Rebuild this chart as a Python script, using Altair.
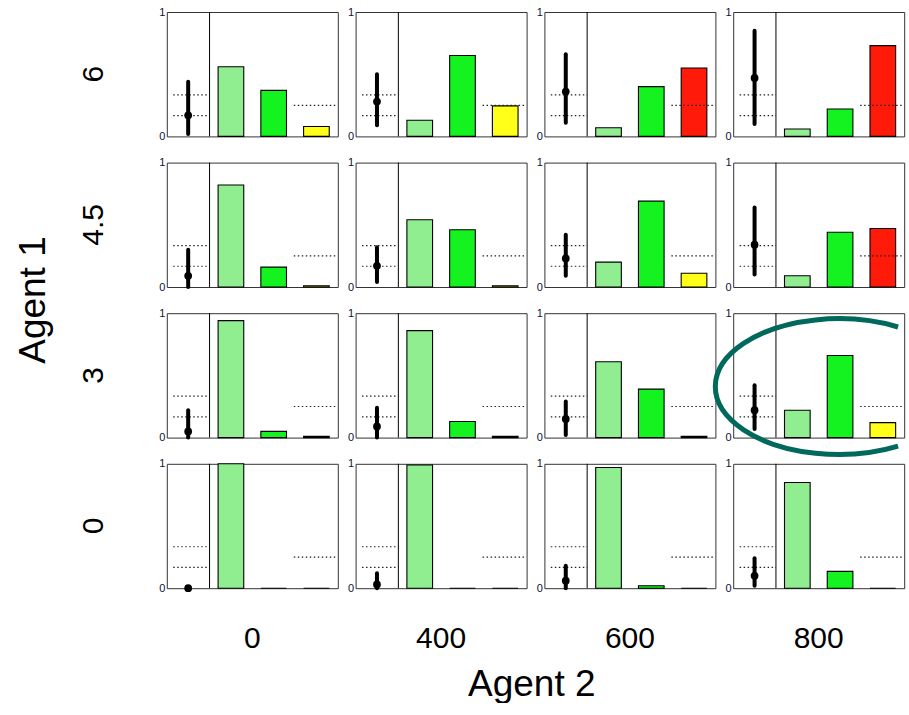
import altair as alt
import pandas as pd

# ---- values ----
agent1_levels = ["6", "4.5", "3", "0"]          # rows, top to bottom
agent2_levels = ["0", "400", "600", "800"]      # columns, left to right

light_share = [
    [0.56, 0.13, 0.07, 0.06],
    [0.82, 0.54, 0.20, 0.09],
    [0.94, 0.86, 0.61, 0.22],
    [1.00, 0.99, 0.97, 0.85],
]
green_share = [
    [0.37, 0.65, 0.40, 0.22],
    [0.16, 0.46, 0.69, 0.44],
    [0.05, 0.13, 0.39, 0.66],
    [0.00, 0.00, 0.02, 0.135],
]
third_share = [
    [0.08, 0.245, 0.55, 0.73],
    [0.01, 0.01, 0.11, 0.47],
    [0.01, 0.01, 0.01, 0.12],
    [0.00, 0.00, 0.00, 0.00],
]
third_kind = [
    ["yellow", "yellow", "red", "red"],
    ["yellow", "yellow", "yellow", "red"],
    ["yellow", "yellow", "yellow", "yellow"],
    ["yellow", "yellow", "yellow", "yellow"],
]
point_est = [
    [0.17, 0.28, 0.36, 0.47],
    [0.09, 0.17, 0.23, 0.34],
    [0.05, 0.09, 0.15, 0.22],
    [0.00, 0.03, 0.06, 0.10],
]
ci_low = [
    [0.02, 0.09, 0.11, 0.10],
    [0.00, 0.04, 0.09, 0.10],
    [0.00, 0.00, 0.02, 0.07],
    [0.00, 0.00, 0.00, 0.02],
]
ci_high = [
    [0.44, 0.50, 0.66, 0.85],
    [0.30, 0.32, 0.42, 0.64],
    [0.22, 0.24, 0.29, 0.42],
    [0.00, 0.12, 0.18, 0.24],
]
left_refs = [1 / 6, 1 / 3]
right_ref = 0.25
highlight = {"a1": "3", "a2": "800", "x": 2.47, "y": 0.41}

fill_map = {"light": "#90EE90", "green": "#14F31F", "yellow": "#FFFF19", "red": "#FF1A0A"}

# ---- long table ----
rows = []
for i, a1 in enumerate(agent1_levels):
    for j, a2 in enumerate(agent2_levels):
        vals = [light_share[i][j], green_share[i][j], third_share[i][j]]
        fills = [fill_map["light"], fill_map["green"], fill_map[third_kind[i][j]]]
        for k in range(3):
            rows.append(dict(kind="bar", a1=a1, a2=a2, x0=k + 1.2, x1=k + 1.8,
                             v=vals[k], v0=0.0, fill=fills[k]))
        rows.append(dict(kind="summary", a1=a1, a2=a2, xc=0.5,
                         v=point_est[i][j], lo=ci_low[i][j], hi=ci_high[i][j]))
        for r in left_refs:
            rows.append(dict(kind="ref", a1=a1, a2=a2, x0=0.15, x1=1.0, v=r))
        rows.append(dict(kind="ref", a1=a1, a2=a2, x0=2.97, x1=4.0, v=right_ref))
rows.append(dict(kind="ellipse", a1=highlight["a1"], a2=highlight["a2"],
                 xc=highlight["x"], v=highlight["y"]))
df = pd.DataFrame(rows)

FONT = "Liberation Sans"
xs = alt.Scale(domain=[0, 4], nice=False, zero=False)
ys = alt.Scale(domain=[0, 1], nice=False, zero=False)
yax = alt.Axis(values=[0, 1], title=None, grid=False, ticks=False, domain=False,
               labelFontSize=11, labelPadding=2, labelFlush=False, labelColor="#111133",
               labelFont=FONT, format="d")

bars = alt.Chart().mark_rect(stroke="black", strokeWidth=1.1).encode(
    x=alt.X("x0:Q", scale=xs, axis=None), x2="x1:Q",
    y=alt.Y("v:Q", scale=ys, axis=yax), y2="v0:Q",
    color=alt.Color("fill:N", scale=None),
).transform_filter(alt.datum.kind == "bar")

refs = alt.Chart().mark_rule(strokeDash=[1.5, 2.5], color="#222222", strokeWidth=1.2).encode(
    x=alt.X("x0:Q", scale=xs, axis=None), x2="x1:Q",
    y=alt.Y("v:Q", scale=ys, axis=yax),
).transform_filter(alt.datum.kind == "ref")

divider = alt.Chart().mark_rule(color="black", strokeWidth=1).encode(
    x=alt.datum(1, scale=xs, axis=None),
    y=alt.datum(0, scale=ys, axis=yax), y2=alt.datum(1),
).transform_filter(alt.datum.kind == "summary")

errbar = alt.Chart().mark_rule(color="black", strokeWidth=4, strokeCap="round").encode(
    x=alt.X("xc:Q", scale=xs, axis=None),
    y=alt.Y("lo:Q", scale=ys, axis=yax), y2="hi:Q",
).transform_filter(alt.datum.kind == "summary")

pts = alt.Chart().mark_circle(color="black", size=60, opacity=1).encode(
    x=alt.X("xc:Q", scale=xs, axis=None),
    y=alt.Y("v:Q", scale=ys, axis=yax),
).transform_filter(alt.datum.kind == "summary")

# open elliptical ring (the part that is visible in the reference; it leaves the page on the right)
ellipse_path = "M 0.48 -0.4825 A 1 0.55 0 1 0 0.48 0.4825"
ring = alt.Chart().mark_point(shape=ellipse_path, size=61000, filled=False,
                              stroke="#00695C", strokeWidth=5, opacity=1,
                              strokeCap="butt", strokeJoin="round").encode(
    x=alt.X("xc:Q", scale=xs, axis=None),
    y=alt.Y("v:Q", scale=ys, axis=yax),
).transform_filter(alt.datum.kind == "ellipse")

cell = alt.layer(bars, refs, divider, errbar, pts, ring).properties(width=171, height=124.4)

chart = cell.facet(
    data=df,
    row=alt.Row("a1:N", sort=agent1_levels, header=alt.Header(
        title="Agent 1", titleOrient="left", labelOrient="left", labelAngle=-90,
        labelFontSize=30, titleFontSize=37, labelFont=FONT, titleFont=FONT,
        titleFontWeight="normal", labelColor="black", titleColor="black",
        labelPadding=43, titlePadding=16)),
    column=alt.Column("a2:N", sort=agent2_levels, header=alt.Header(
        title="Agent 2", titleOrient="bottom", labelOrient="bottom",
        labelFontSize=30, titleFontSize=37, labelFont=FONT, titleFont=FONT,
        titleFontWeight="normal", labelColor="black", titleColor="black",
        labelPadding=35.5, titlePadding=2)),
    spacing={"row": 25.6, "column": 17.8},
    bounds="flush",
).resolve_axis(y="independent").configure_view(
    stroke="#333333", strokeWidth=1
).properties(
    padding={"left": 13.8, "top": 5, "right": 0, "bottom": 0},
)

chart.save("out.html", embed_options={"renderer": "svg", "actions": False})
